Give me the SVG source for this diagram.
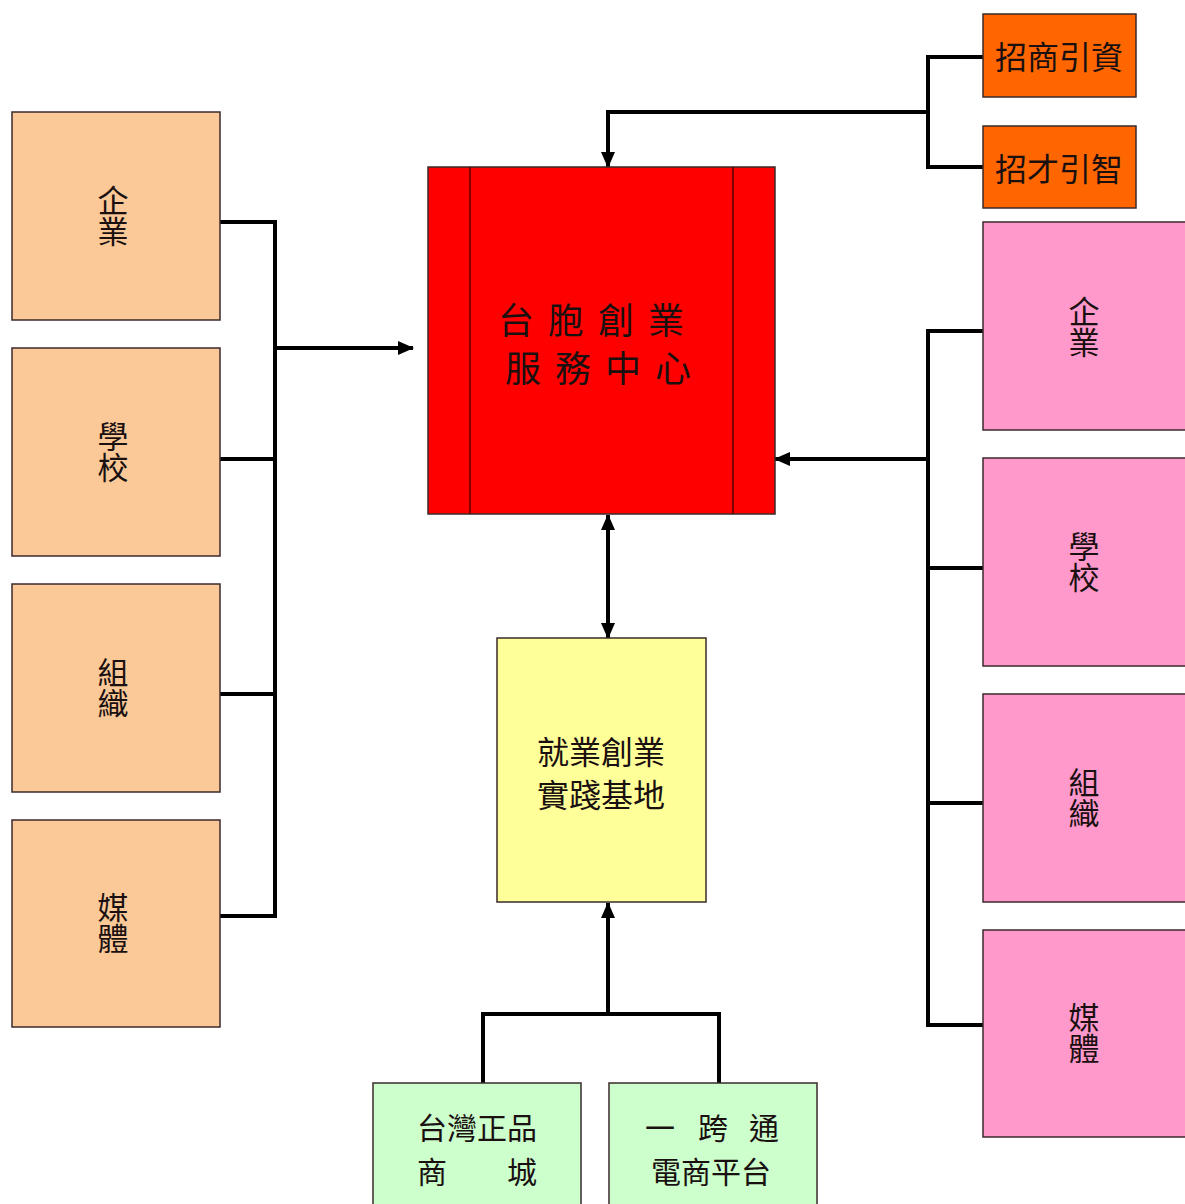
<svg xmlns="http://www.w3.org/2000/svg" width="1185" height="1204" viewBox="0 0 1185 1204">
<style>
.box{stroke:#3a2a2a;stroke-width:1.5}
.peach{fill:#FBC998}
.pink{fill:#FF99CC}
.orange{fill:#FF6600}
.red{fill:#FF0000}
.yellow{fill:#FFFF99}
.green{fill:#CCFFCC}
text{font-family:"Noto Sans CJK TC","Noto Sans CJK SC",sans-serif;fill:#1a1010}
.v{font-size:31px;text-anchor:middle;writing-mode:vertical-rl}
.c{font-size:32px;text-anchor:middle}
.g{font-size:30px;text-anchor:middle}
.conn{fill:none;stroke:#000;stroke-width:4;stroke-linejoin:miter}
</style>
<defs>
<marker id="ah" markerUnits="userSpaceOnUse" markerWidth="16" markerHeight="14" refX="15" refY="7" orient="auto">
<path d="M0,0 L16,7 L0,14 Z" fill="#000"/>
</marker>
<marker id="as" markerUnits="userSpaceOnUse" markerWidth="16" markerHeight="14" refX="1" refY="7" orient="auto">
<path d="M16,0 L0,7 L16,14 Z" fill="#000"/>
</marker>
</defs>
<rect width="1185" height="1204" fill="#fff"/>

<g id="connectors">
<polyline class="conn" points="220,222 275,222 275,916 220,916"/>
<line class="conn" x1="220" y1="459" x2="275" y2="459"/>
<line class="conn" x1="220" y1="694" x2="275" y2="694"/>
<line class="conn" x1="275" y1="348" x2="413" y2="348" marker-end="url(#ah)"/>
<polyline class="conn" points="983,57 928,57 928,167 983,167"/>
<polyline class="conn" points="928,112 608,112 608,167" marker-end="url(#ah)"/>
<polyline class="conn" points="983,331 928,331 928,1025 983,1025"/>
<line class="conn" x1="928" y1="568" x2="983" y2="568"/>
<line class="conn" x1="928" y1="803" x2="983" y2="803"/>
<line class="conn" x1="928" y1="459" x2="775" y2="459" marker-end="url(#ah)"/>
<line class="conn" x1="608" y1="515" x2="608" y2="638" marker-start="url(#as)" marker-end="url(#ah)"/>
<polyline class="conn" points="483,1083 483,1014 719,1014 719,1083"/>
<line class="conn" x1="608" y1="1014" x2="608" y2="903" marker-end="url(#ah)"/>
</g>

<g id="left-1"><rect class="box peach" x="12" y="112" width="208" height="208"/><text class="v" x="113" y="216">企業</text></g>
<g id="left-2"><rect class="box peach" x="12" y="348" width="208" height="208"/><text class="v" x="113" y="452">學校</text></g>
<g id="left-3"><rect class="box peach" x="12" y="584" width="208" height="208"/><text class="v" x="113" y="688">組織</text></g>
<g id="left-4"><rect class="box peach" x="12" y="820" width="208" height="207"/><text class="v" x="113" y="923">媒體</text></g>

<g id="center"><rect class="box red" x="428" y="167" width="347" height="347"/>
<line x1="470" y1="167" x2="470" y2="514" stroke="#5a0000" stroke-width="1.5"/>
<line x1="733" y1="167" x2="733" y2="514" stroke="#5a0000" stroke-width="1.5"/>
<text font-size="36" text-anchor="middle" letter-spacing="14"><tspan x="598" y="334">台胞創業</tspan><tspan x="605" y="382">服務中心</tspan></text>
</g>

<g id="orange-1"><rect class="box orange" x="983" y="14" width="153" height="83"/><text class="c" x="1059" y="69">招商引資</text></g>
<g id="orange-2"><rect class="box orange" x="983" y="126" width="153" height="82"/><text class="c" x="1059" y="181">招才引智</text></g>

<g id="right-1"><rect class="box pink" x="983" y="222" width="210" height="208"/><text class="v" x="1084" y="327">企業</text></g>
<g id="right-2"><rect class="box pink" x="983" y="458" width="210" height="208"/><text class="v" x="1084" y="562">學校</text></g>
<g id="right-3"><rect class="box pink" x="983" y="694" width="210" height="208"/><text class="v" x="1084" y="798">組織</text></g>
<g id="right-4"><rect class="box pink" x="983" y="930" width="210" height="207"/><text class="v" x="1084" y="1033">媒體</text></g>

<g id="base"><rect class="box yellow" x="497" y="638" width="209" height="264"/>
<text class="c"><tspan x="601" y="764">就業創業</tspan><tspan x="601" y="807">實踐基地</tspan></text></g>

<g id="mall"><rect class="box green" x="373" y="1083" width="208" height="130"/>
<text class="g"><tspan x="477" y="1139">台灣正品</tspan><tspan x="477" y="1183">商　　城</tspan></text></g>
<g id="ecom"><rect class="box green" x="609" y="1083" width="208" height="130"/>
<text class="g"><tspan x="660" y="1139">一</tspan><tspan x="713" y="1139">跨</tspan><tspan x="764" y="1139">通</tspan><tspan x="711" y="1183">電商平台</tspan></text></g>
</svg>
